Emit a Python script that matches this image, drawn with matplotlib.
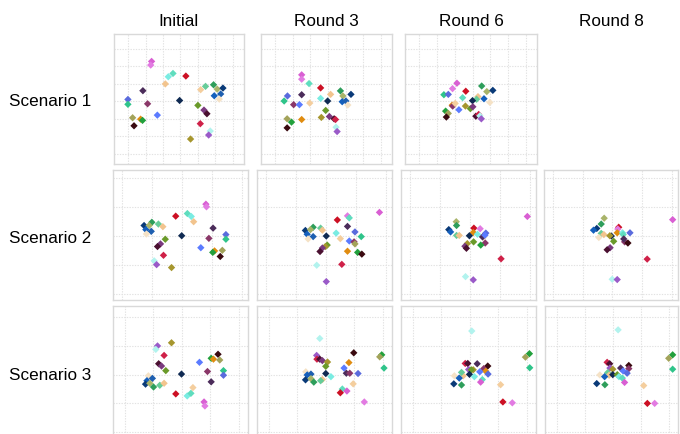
import matplotlib
matplotlib.use("Agg")
import matplotlib.pyplot as plt

plt.rcParams['font.family'] = ['Liberation Sans', 'DejaVu Sans']

# ---------------- data ----------------
col_titles = ["Initial", "Round 3", "Round 6", "Round 8"]
row_titles = ["Scenario 1", "Scenario 2", "Scenario 3"]

# Scenario 1
s1_init_x = [-1.66, -1.71, -0.43, -0.70, 0.31, -0.87, 1.44, 1.16, 1.90, 2.11, 2.44, 1.94, 2.31, 2.23,
             -2.16, -3.02, -3.02, -1.89, -0.05, 1.00, 1.35, 1.52, -1.33, -2.75, -2.29, -2.18, -2.67,
             1.14, 1.71, 1.62, 0.58]
s1_init_y = [2.29, 2.08, 1.60, 1.41, 1.45, 1.00, 0.86, 0.67, 0.95, 0.70, 0.76, 0.32, 0.42, 0.13,
             0.61, 0.11, -0.17, -0.14, 0.05, -0.23, -0.50, -0.71, -0.79, -0.94, -1.02, -1.09, -1.40,
             -1.28, -1.70, -1.93, -2.16]
s1_init_c = ["orchid", "orchid2", "aqua", "turq", "red", "peach", "mint", "peach2", "seagreen", "khaki",
             "navy", "blue", "blue2", "wheat", "dkpurple", "royal", "teal", "magenta", "midnight",
             "olivegreen", "plum", "maroon", "cornflower", "olivekhaki", "orange", "green", "brown",
             "crimson", "paleturq", "mpurple", "gold"]

s1_r3_x = [-1.50, -1.50, -1.08, -0.42, 0.15, 0.71, 0.85, 1.31, 0.81, 1.02, 1.13, -2.31, -2.50, -1.50,
           -1.96, -1.63, -1.04, -0.42, -0.02, -0.13, -2.33, -2.08, -2.33, -1.50, -0.38, 0.08, 0.35,
           0.43, 0.46, 0.52]
s1_r3_y = [1.52, 1.27, 1.02, 0.77, 0.40, 0.60, 0.31, 0.40, -0.02, 0.02, -0.21, 0.31, 0.02, 0.38,
           -0.19, -0.19, -0.10, 0.17, 0.02, -0.52, -1.00, -1.19, -1.52, -1.04, -0.92, -0.87, -1.00,
           -1.04, -1.48, -1.73]
s1_r3_c = ["orchid", "orchid2", "aqua", "red", "peach", "seagreen", "khaki", "navy", "blue", "blue2",
           "wheat", "royal", "teal", "dkpurple", "magenta", "cornflower", "peach2", "turq", "midnight",
           "olivegreen", "olivekhaki", "green", "brown", "orange", "gold", "plum", "maroon", "crimson",
           "paleturq", "mpurple"]

s1_r6_x = [-0.88, -1.13, -1.62, -1.37, -0.38, 0.52, 0.81, 1.15, 0.65, 0.31, 0.23, 0.98, -0.56, 0.00,
           -1.15, -1.12, -0.98, -0.40, -0.12, 0.02, -0.77, -1.52, -1.37, -1.48, 0.19, 0.35, 0.42, 0.50]
s1_r6_y = [1.04, 0.73, 0.38, 0.40, 0.58, 0.88, 0.56, 0.63, 0.15, 0.27, 0.12, -0.06, 0.21, 0.04,
           -0.22, -0.27, -0.12, -0.27, -0.42, -0.31, -0.48, -0.56, -0.69, -0.90, -0.85, -0.75, -0.83, -1.00]
s1_r6_c = ["orchid", "orchid2", "teal", "royal", "red", "seagreen", "khaki", "navy", "blue", "peach",
           "mint", "wheat", "aqua", "midnight", "orange", "magenta", "peach2", "gold", "olivegreen",
           "plum", "cornflower", "green", "olivekhaki", "brown", "maroon", "crimson", "paleturq", "mpurple"]

# Scenario 2
s2_init_x = [0.80, 0.82, -0.21, 0.18, 0.31, 0.39, -1.27, -1.01, -1.10, -0.79, -0.64, -1.21, -1.03,
             -1.19, -0.01, 1.04, 1.47, 1.47, 0.90, 0.63, -0.56, -0.72, -0.82, -0.62, 1.09, 1.03, 1.35,
             1.28, -0.93, -0.85, -0.35]
s2_init_y = [1.09, 1.00, 0.68, 0.77, 0.67, 0.49, 0.36, 0.47, 0.36, 0.41, 0.32, 0.22, 0.16, 0.07,
             0.01, 0.27, 0.05, -0.11, -0.08, -0.40, -0.11, -0.27, -0.36, -0.66, -0.51, -0.56, -0.49,
             -0.70, -0.85, -0.98, -1.08]
s2_init_c = ["orchid", "orchid2", "red", "aqua", "turq", "peach", "navy", "seagreen", "khaki", "mint",
             "peach", "blue", "blue2", "wheat", "midnight", "dkpurple", "royal", "teal", "magenta",
             "cornflower", "olivegreen", "plum", "maroon", "crimson", "orange", "green", "olivekhaki",
             "brown", "paleturq", "mpurple", "gold"]

s2_r3_x = [1.79, 0.72, 0.78, 0.38, 0.72, -0.69, -0.43, -0.52, -0.18, -0.12, -0.63, -0.43, -0.60, 0.01,
           0.34, 0.48, 0.97, 1.18, 0.78, 0.94, 0.97, 0.04, -0.02, -0.12, -0.20, 0.72, 1.06, 1.20, 0.53,
           -0.31, 0.01]
s2_r3_y = [0.81, 0.69, 0.62, 0.55, 0.33, 0.19, 0.30, 0.22, 0.27, 0.20, 0.06, -0.02, -0.10, 0.00,
           0.10, -0.09, 0.14, -0.02, -0.17, -0.20, -0.27, -0.31, -0.36, -0.41, -0.53, -0.52, -0.56,
           -0.62, -0.97, -1.00, -1.56]
s2_r3_c = ["orchid", "orchid2", "aqua", "red", "dkpurple", "navy", "seagreen", "khaki", "mint", "peach",
           "blue", "blue2", "wheat", "midnight", "turq", "peach2", "royal", "teal", "cornflower",
           "magenta", "olivekhaki", "olivegreen", "gold", "plum", "maroon", "orange", "green", "brown",
           "crimson", "paleturq", "mpurple"]

s2_r6_x = [1.92, -0.46, -0.45, -0.71, -0.65, -0.45, -0.36, 0.13, 0.34, 0.11, 0.25, -0.02, 0.53, 0.45,
           0.42, 0.12, 0.51, 0.36, -0.09, -0.17, -0.12, 1.04, -0.15, 0.11, 0.50]
s2_r6_y = [0.67, 0.49, 0.36, 0.22, 0.14, 0.02, 0.02, 0.27, 0.25, 0.12, 0.06, 0.01, 0.10, -0.05,
           -0.03, -0.20, -0.24, -0.31, -0.26, -0.35, -0.42, -0.78, -1.39, -1.50, 0.03]
s2_r6_c = ["orchid", "khaki", "seagreen", "navy", "blue", "mint", "peach", "red", "orchid2", "orange",
           "turq", "midnight", "royal", "wheat", "dkpurple", "olivegreen", "magenta", "green", "gold",
           "plum", "maroon", "crimson", "paleturq", "mpurple", "cornflower"]

s2_r8_x = [2.03, -0.28, -0.38, -0.53, -0.64, -0.38, -0.29, -0.46, -0.04, -0.09, 0.21, 0.18, 0.16,
           0.34, 0.36, 0.59, 0.04, 0.41, 0.52, 0.38, -0.08, -0.18, 1.17, -0.01, 0.16]
s2_r8_y = [0.56, 0.61, 0.41, 0.26, 0.20, 0.09, 0.05, -0.05, 0.00, 0.01, 0.30, 0.24, 0.11, 0.11, 0.05,
           0.11, -0.18, -0.20, -0.24, -0.10, -0.40, -0.47, -0.79, -1.48, -1.49]
s2_r8_c = ["orchid", "khaki", "seagreen", "navy", "blue", "mint", "peach", "wheat", "midnight", "gold",
           "red", "orchid2", "orange", "turq", "aqua", "royal", "olivegreen", "magenta", "brown",
           "dkpurple", "plum", "maroon", "crimson", "paleturq", "mpurple"]

# Scenario 3
s3_init_x = [-0.36, -0.85, -0.91, -0.62, -0.81, -0.71, -0.56, -0.01, 0.62, 1.03, 1.11, 1.27, 1.33,
             0.90, 1.46, 1.46, 1.03, -1.17, -1.03, -1.22, -1.27, -1.12, -0.99, -0.77, -0.62, -0.21,
             0.19, 0.32, 0.39, 0.78, 0.81]
s3_init_y = [1.11, 1.00, 0.88, 0.67, 0.38, 0.30, 0.14, 0.02, 0.43, 0.57, 0.54, 0.71, 0.51, 0.11,
             0.14, -0.02, -0.25, -0.04, -0.13, -0.21, -0.33, -0.30, -0.43, -0.37, -0.30, -0.67,
             -0.74, -0.65, -0.45, -0.95, -1.09]
s3_init_c = ["gold", "mpurple", "paleturq", "crimson", "maroon", "plum", "olivegreen", "midnight",
             "cornflower", "green", "orange", "brown", "olivekhaki", "magenta", "teal", "royal",
             "dkpurple", "wheat", "blue2", "blue", "navy", "khaki", "seagreen", "mint", "peach", "red",
             "turq", "aqua", "peach2", "orchid", "orchid2"]

s3_r3_x = [-0.21, 0.98, 1.96, 1.89, 2.04, -0.32, -0.31, -0.21, -0.12, 0.06, 0.00, 0.81, 0.64, 0.72,
           0.84, 1.13, 0.00, 0.18, -0.12, -0.18, -0.70, -0.65, -0.52, -0.71, -0.52, -0.42, 0.96, 0.58,
           0.51, 0.74, 1.35]
s3_r3_y = [1.26, 0.76, 0.69, 0.62, 0.23, 0.67, 0.54, 0.54, 0.49, 0.44, 0.29, 0.42, 0.23, 0.05, 0.05,
           0.04, 0.04, -0.07, -0.17, -0.21, 0.10, -0.01, 0.02, -0.18, -0.14, -0.26, -0.32, -0.50,
           -0.63, -0.57, -0.95]
s3_r3_c = ["paleturq", "brown", "green", "olivekhaki", "teal", "mpurple", "crimson", "maroon", "plum",
           "gold", "olivegreen", "orange", "cornflower", "dkpurple", "magenta", "royal", "midnight",
           "turq", "peach", "mint", "wheat", "blue", "blue2", "navy", "khaki", "seagreen", "peach2",
           "aqua", "red", "orchid", "orchid2"]

s3_r6_x = [0.07, 2.09, 1.95, 2.10, -0.16, -0.07, 0.26, 0.63, 0.49, 0.56, -0.04, 0.12, 0.05, 0.64,
           0.35, -0.01, -0.54, -0.23, -0.29, -0.37, 0.16, 0.44, 0.38, -0.56, -0.29, 1.08, 1.16, 1.49]
s3_r6_y = [1.52, 0.73, 0.61, 0.24, 0.39, 0.39, 0.38, 0.30, 0.21, 0.12, 0.18, 0.17, 0.17, 0.02, 0.10,
           0.01, -0.04, -0.04, 0.08, -0.12, -0.07, -0.17, -0.26, -0.32, -0.36, -0.35, -0.95, -0.98]
s3_r6_c = ["paleturq", "green", "olivekhaki", "teal", "crimson", "maroon", "dkpurple", "brown",
           "magenta", "orange", "mpurple", "gold", "olivegreen", "royal", "cornflower", "midnight",
           "wheat", "peach", "mint", "blue", "turq", "aqua", "orchid", "navy", "seagreen", "peach2",
           "red", "orchid2"]

s3_r8_x = [0.19, 2.13, 1.99, 2.13, -0.20, -0.11, 0.57, 0.57, 0.28, -0.10, 0.00, -0.18, -0.13, -0.46,
           -0.29, 0.00, 0.16, 0.37, 0.51, 0.22, 0.34, 0.42, -0.57, -0.28, 1.10, 1.23, 1.49]
s3_r8_y = [1.56, 0.69, 0.57, 0.19, 0.43, 0.38, 0.32, 0.21, 0.23, 0.23, 0.19, 0.07, -0.02, -0.01,
           -0.07, 0.00, 0.00, 0.13, 0.05, -0.07, -0.12, -0.27, -0.31, -0.35, -0.38, -1.00, -1.00]
s3_r8_c = ["paleturq", "green", "olivekhaki", "teal", "crimson", "maroon", "brown", "magenta",
           "dkpurple", "mpurple", "gold", "mint", "peach", "wheat", "blue", "midnight", "olivegreen",
           "cornflower", "royal", "turq", "aqua", "orchid", "navy", "seagreen", "peach2", "red",
           "orchid2"]

# ---------------- style ----------------
palette = {
    "orchid": "#D95FD3", "orchid2": "#E27BE2", "aqua": "#5FDDBE", "turq": "#7AECE2",
    "paleturq": "#B2F3EE", "red": "#CC1024", "crimson": "#CF2148", "peach": "#F2C48E",
    "peach2": "#F4CE9E", "wheat": "#F5E2C6", "seagreen": "#2E9E5B", "mint": "#66CC99",
    "khaki": "#A9B46A", "navy": "#0A3A78", "blue": "#1560BD", "blue2": "#1E5FB0",
    "royal": "#5A6BDD", "teal": "#2FC48A", "dkpurple": "#4B2C5A", "magenta": "#8A3768",
    "midnight": "#0F2A52", "olivegreen": "#6A9A2A", "plum": "#7A3A7E", "maroon": "#4A1030",
    "cornflower": "#5B7BFF", "olivekhaki": "#A3A35A", "orange": "#E08C10", "green": "#22A03C",
    "brown": "#3A0A10", "mpurple": "#9A5AC8", "gold": "#A6962E",
}

W, H = 680, 435
fig = plt.figure(figsize=(W / 100, H / 100), dpi=100)

# panel boxes in pixels: (left, top, width, height)
panels = [
    (0, 0, (114, 35, 130, 130), (s1_init_x, s1_init_y, s1_init_c)),
    (0, 1, (261, 35, 131, 130), (s1_r3_x, s1_r3_y, s1_r3_c)),
    (0, 2, (405, 35, 132, 130), (s1_r6_x, s1_r6_y, s1_r6_c)),
    (1, 0, (113, 171, 135, 130), (s2_init_x, s2_init_y, s2_init_c)),
    (1, 1, (257, 171, 135, 130), (s2_r3_x, s2_r3_y, s2_r3_c)),
    (1, 2, (401, 171, 135, 130), (s2_r6_x, s2_r6_y, s2_r6_c)),
    (1, 3, (544, 171, 134, 130), (s2_r8_x, s2_r8_y, s2_r8_c)),
    (2, 0, (113, 307, 135, 131), (s3_init_x, s3_init_y, s3_init_c)),
    (2, 1, (257, 307, 135, 131), (s3_r3_x, s3_r3_y, s3_r3_c)),
    (2, 2, (401, 307, 135, 131), (s3_r6_x, s3_r6_y, s3_r6_c)),
    (2, 3, (545, 307, 133, 131), (s3_r8_x, s3_r8_y, s3_r8_c)),
]

limits = {
    0: ((-3.82, 3.65), (-3.59, 3.86), [-3, -2, -1, 0, 1, 2, 3]),
    1: ((-2.31, 2.21), (-2.19, 2.26), [-2, -1, 0, 1, 2]),
    2: ((-2.41, 2.32), (-2.17, 2.39), [-2, -1, 0, 1, 2]),
}

for r, c, (l, t, w, h), (xs, ys, cs) in panels:
    ax = fig.add_axes([l / W, 1 - (t + h) / H, w / W, h / H])
    xl, yl, ticks = limits[r]
    ax.set_xlim(*xl)
    ax.set_ylim(*yl)
    ax.set_xticks(ticks)
    ax.set_yticks(ticks)
    ax.tick_params(length=0, labelbottom=False, labelleft=False)
    ax.grid(True, color="#E2E2E2", linestyle=(0, (1.2, 1.2)), linewidth=0.8)
    ax.set_axisbelow(True)
    for sp in ax.spines.values():
        sp.set_color("#D9D9D9")
        sp.set_linewidth(1.0)
    ax.scatter(xs, ys, c=[palette[k] for k in cs], marker="D", s=14, linewidths=0, zorder=3)

# column titles
col_centers = [179, 326, 471, 611]
for name, cx in zip(col_titles, col_centers):
    fig.text(cx / W, 1 - 21.5 / H, name, ha="center", va="center", fontsize=12.3)

# row titles
row_centers = [101, 239, 376]
for name, cy in zip(row_titles, row_centers):
    fig.text(9 / W, 1 - cy / H, name, ha="left", va="center", fontsize=12.3)

fig.savefig("out.png", dpi=100)
